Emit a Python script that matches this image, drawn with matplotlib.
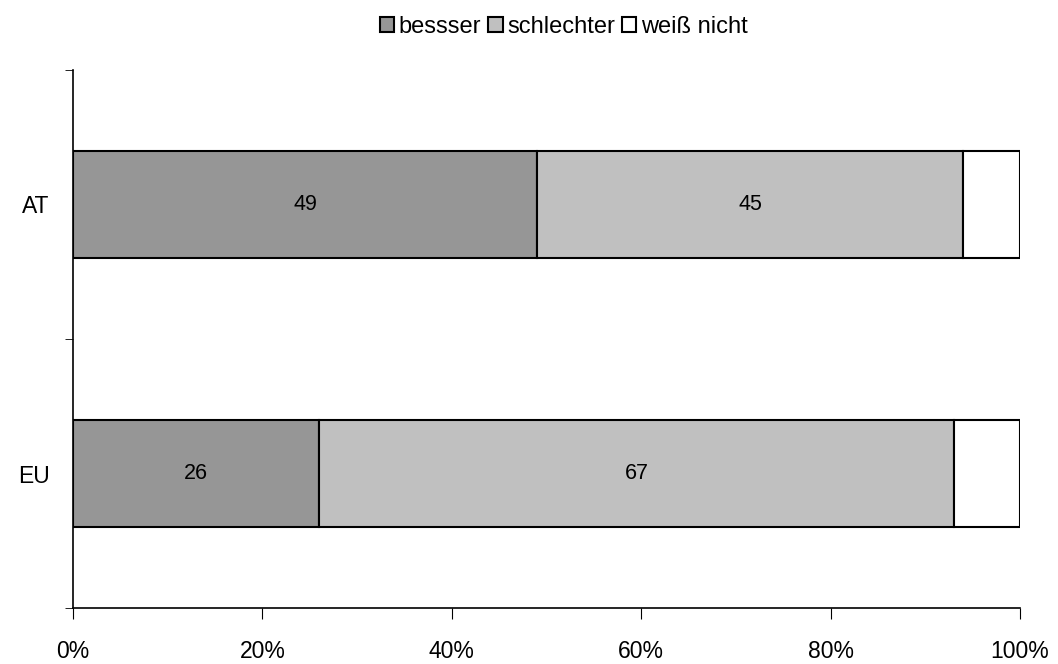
import matplotlib.pyplot as plt
import numpy as np
from matplotlib.patches import Patch

plt.rcParams['font.family'] = ['Liberation Sans', 'DejaVu Sans']

categories = ["EU", "AT"]
besser = [26, 49]
schlechter = [67, 45]
weiss_nicht = [7, 6]
series_names = ["bessser", "schlechter", "weiß nicht"]
colors = ["#969696", "#c0c0c0", "#ffffff"]
x_ticks = [0, 20, 40, 60, 80, 100]

fig = plt.figure(figsize=(10.58, 6.64), dpi=100)
ax = fig.add_axes([0.069, 0.0843, 0.895, 0.8103])

y = np.arange(len(categories))
left = np.zeros(len(categories))
for vals, name, col in zip([besser, schlechter, weiss_nicht], series_names, colors):
    vals = np.array(vals, dtype=float)
    ax.barh(y, vals, left=left, height=0.4, color=col, edgecolor="black",
            linewidth=1.5, label=name)
    if name != "weiß nicht":
        for yi, l, v in zip(y, left, vals):
            ax.text(l + v / 2, yi, f"{int(v)}", ha="center", va="center", fontsize=15.5)
    left += vals

ax.set_xlim(0, 100)
ax.set_ylim(-0.5, 1.5)
ax.set_xticks(x_ticks)
ax.set_xticklabels([f"{t}%" for t in x_ticks], fontsize=16.5)
ax.set_yticks(y)
ax.set_yticklabels(categories, fontsize=16.5)
ax.set_yticks([-0.5, 0.5, 1.5], minor=True)
ax.tick_params(axis="y", which="major", length=0, pad=17)
ax.tick_params(axis="y", which="minor", length=6, direction="out")
ax.tick_params(axis="x", length=8, direction="out", pad=15)

for s in ["top", "right"]:
    ax.spines[s].set_visible(False)
for s in ["left", "bottom"]:
    ax.spines[s].set_linewidth(1.2)

handles = [Patch(facecolor=c, edgecolor="black", linewidth=1.5) for c in colors]
fig.legend(handles, series_names, loc="upper center", bbox_to_anchor=(0.533, 1.008),
           ncol=3, frameon=False, fontsize=17, handlelength=0.6, handleheight=0.6,
           handletextpad=0.2, columnspacing=0.3)

fig.savefig("out.png", dpi=100)
